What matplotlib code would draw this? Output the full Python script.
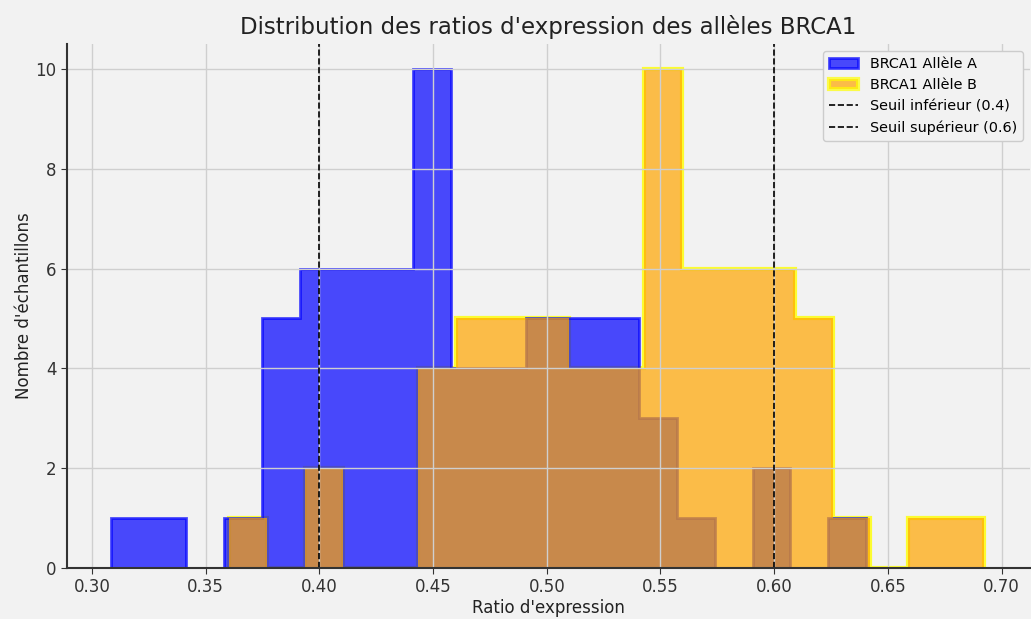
import matplotlib
matplotlib.use("Agg")
import matplotlib.pyplot as plt
from matplotlib.patches import Patch
from matplotlib.lines import Line2D

# -- histogram bins
edges_a = [0.3083, 0.3249, 0.3415, 0.3581, 0.3747, 0.3913, 0.4079, 0.4245,
           0.4411, 0.4577, 0.4743, 0.4909, 0.5075, 0.5241, 0.5407, 0.5573,
           0.5739, 0.5905, 0.6071, 0.6237, 0.6403]
counts_a = [1, 1, 0, 1, 5, 6, 6, 6, 10, 4, 4, 5, 5, 5, 3, 1, 0, 2, 0, 1]

edges_b = [0.3604, 0.3770, 0.3936, 0.4102, 0.4267, 0.4433, 0.4599, 0.4765,
           0.4931, 0.5097, 0.5263, 0.5428, 0.5594, 0.5760, 0.5926, 0.6092,
           0.6258, 0.6423, 0.6589, 0.6755, 0.6921]
counts_b = [1, 0, 2, 0, 0, 4, 5, 5, 5, 4, 4, 10, 6, 6, 6, 5, 1, 0, 1, 1]

seuil_inf = 0.4
seuil_sup = 0.6
x_ticks = [0.30, 0.35, 0.40, 0.45, 0.50, 0.55, 0.60, 0.65, 0.70]
y_ticks = [0, 2, 4, 6, 8, 10]

bg = '#f2f2f2'
plt.rcParams['font.family'] = ['DejaVu Sans']

fig = plt.figure(figsize=(10.31, 6.19), dpi=100, facecolor=bg)
ax = fig.add_axes([0.065, 0.0824, 0.934, 0.8466], facecolor=bg)

# -- yellow outline of allele B sits under the fills
ax.hist(edges_b[:-1], bins=edges_b, weights=counts_b, histtype='step',
        color='yellow', alpha=0.8, linewidth=3, zorder=0.8)
ax.hist(edges_a[:-1], bins=edges_a, weights=counts_a, histtype='stepfilled',
        color='blue', edgecolor='blue', alpha=0.7, linewidth=2, zorder=1)
ax.hist(edges_b[:-1], bins=edges_b, weights=counts_b, histtype='stepfilled',
        color='orange', edgecolor='none', alpha=0.7, zorder=1)

ax.axvline(seuil_inf, color='black', linestyle='--', linewidth=1.2)
ax.axvline(seuil_sup, color='black', linestyle='--', linewidth=1.2)

ax.set_xticks(x_ticks)
ax.set_xticklabels(['%.2f' % v for v in x_ticks])
ax.set_yticks(y_ticks)
ax.set_xlim(0.289, 0.7125)
ax.set_ylim(0, 10.5)
ax.tick_params(labelsize=12, colors='#333333', length=4)

ax.set_title("Distribution des ratios d'expression des allèles BRCA1",
             fontsize=16.5, color='#222222', pad=7)
ax.set_xlabel("Ratio d'expression", fontsize=12, color='#222222', labelpad=2)
ax.set_ylabel("Nombre d'échantillons", fontsize=12, color='#222222',
              labelpad=2)

ax.grid(True, color='#cfcfcf', linewidth=1)
for side in ['top', 'right']:
    ax.spines[side].set_visible(False)
for side in ['left', 'bottom']:
    ax.spines[side].set_color('#333333')
    ax.spines[side].set_linewidth(1.5)

handles = [
    Patch(facecolor='blue', edgecolor='blue', alpha=0.7, linewidth=2),
    Patch(facecolor='orange', edgecolor='yellow', alpha=0.7, linewidth=3),
    Line2D([], [], color='black', linestyle='--', linewidth=1.2),
    Line2D([], [], color='black', linestyle='--', linewidth=1.2),
]
labels = ['BRCA1 Allèle A', 'BRCA1 Allèle B',
          'Seuil inférieur (0.4)', 'Seuil supérieur (0.6)']
leg = ax.legend(handles, labels, loc='upper right', fontsize=10.4,
                facecolor=bg, edgecolor='#cccccc', framealpha=1)

plt.savefig('out.png', dpi=100, facecolor=bg)
plt.close()
